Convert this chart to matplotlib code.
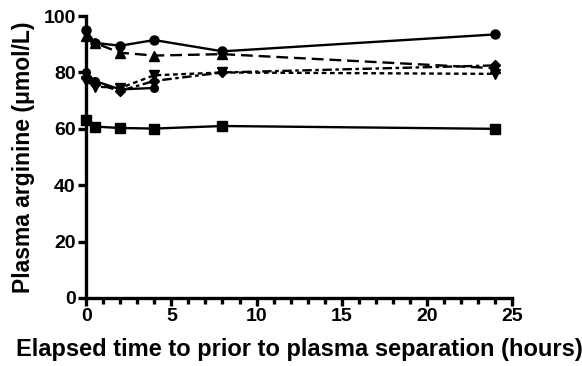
import matplotlib
matplotlib.use("Agg")
import matplotlib.pyplot as plt
from matplotlib.ticker import MultipleLocator

plt.rcParams['font.family'] = ['Liberation Sans', 'DejaVu Sans']
plt.rcParams['font.weight'] = 'bold'

time_h = [0, 0.5, 2, 4, 8, 24]
time_short = [0, 0.5, 2, 4]

circle_solid = [95, 90.5, 89.5, 91.5, 87.5, 93.5]
triangle_dashed = [93, 90.5, 87, 86, 86.5, 81.5]
square_solid = [63, 60.8, 60.3, 60.1, 61, 60]
diamond_dashdot = [78, 76, 73.5, 77, 80, 82.5]
invtri_dotted = [77, 75, 74.5, 79, 80, 79.5]
circle_short = [80, 77, 74, 74.5]

x_ticks = [0, 5, 10, 15, 20, 25]
y_ticks = [0, 20, 40, 60, 80, 100]

fig = plt.figure(figsize=(5.82, 3.66), dpi=100)
ax = fig.add_axes([0.148, 0.186, 0.732, 0.770])

lw = 1.7
ms = 6.5
ax.plot(time_h, circle_solid, color='black', lw=lw, ls='-', marker='o', ms=ms)
ax.plot(time_h, triangle_dashed, color='black', lw=lw, ls=(0, (5, 2.5)), marker='^', ms=ms)
ax.plot(time_h, square_solid, color='black', lw=lw, ls='-', marker='s', ms=ms)
ax.plot(time_h, diamond_dashdot, color='black', lw=lw, ls=(0, (4, 1.5, 1.5, 1.5)), marker='D', ms=ms - 1)
ax.plot(time_h, invtri_dotted, color='black', lw=lw, ls=(0, (2, 1.5)), marker='v', ms=ms)
ax.plot(time_short, circle_short, color='black', lw=lw, ls='-', marker='o', ms=ms - 1)

ax.set_xlim(0, 25)
ax.set_ylim(0, 100)
ax.set_xticks(x_ticks)
ax.set_yticks(y_ticks)
ax.xaxis.set_minor_locator(MultipleLocator(1))

for s in ['top', 'right']:
    ax.spines[s].set_visible(False)
for s in ['left', 'bottom']:
    ax.spines[s].set_linewidth(2.4)

ax.tick_params(axis='both', which='major', direction='out', length=6, width=2.4, labelsize=14, pad=1.5)
ax.tick_params(axis='x', which='minor', direction='out', length=4, width=2.4)
for lab in ax.get_xticklabels() + ax.get_yticklabels():
    lab.set_fontweight('bold')

ax.set_xlabel('Elapsed time to prior to plasma separation (hours)', fontsize=17, fontweight='bold', labelpad=9)
ax.set_ylabel('Plasma arginine (\u03bcmol/L)', fontsize=16.5, fontweight='bold', labelpad=6)

for line in ax.get_lines():
    line.set_clip_on(False)

fig.savefig('out.png', dpi=100)
